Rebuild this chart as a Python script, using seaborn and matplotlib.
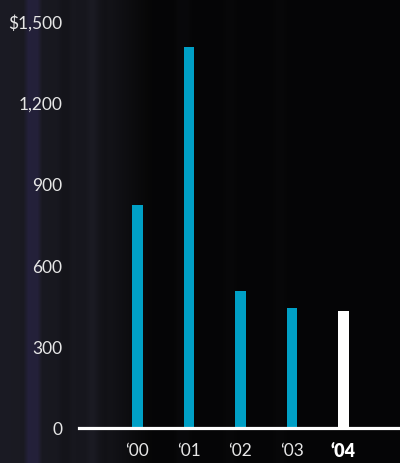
import numpy as np
import pandas as pd
import matplotlib.pyplot as plt
import seaborn as sns
from matplotlib.colors import LinearSegmentedColormap

# Datos del gráfico
anios = ["\u201800", "\u201801", "\u201802", "\u201803", "\u201804"]
valores = [821, 1406, 504, 442, 431]
colores = ["#00a0c6", "#00a0c6", "#00a0c6", "#00a0c6", "#ffffff"]
ticks_y = [0, 300, 600, 900, 1200, 1500]
etiquetas_y = ["0", "300", "600", "900", "1,200", "$1,500"]

df = pd.DataFrame({"anio": anios, "valor": valores})

sns.set_style("dark")
plt.rcParams["font.family"] = ["Lato", "DejaVu Sans"]

fig = plt.figure(figsize=(4.0, 4.64), dpi=100)
fig.patch.set_facecolor("#050505")

# fondo con vetas verticales oscuras (decoración)
fondo = fig.add_axes([0, 0, 1, 1], zorder=0)
perfil = np.full(400, 0.02)
perfil[:100] = np.linspace(0.42, 0.32, 100)
perfil[100:150] = np.linspace(0.32, 0.03, 50)
perfil[26:40] += 0.22
perfil[60:70] -= 0.06
perfil[88:96] += 0.08
perfil[100:108] -= 0.05
perfil[176:190] += 0.05
perfil[225:235] += 0.03
perfil[275:285] += 0.03
perfil = np.convolve(perfil, np.ones(5) / 5, mode="same")
perfil[:3] = perfil[3]
perfil[-3:] = perfil[-4]
mapa = LinearSegmentedColormap.from_list(
    "fondo", ["#050505", "#1a1a22", "#2c2650"])
fondo.imshow(np.tile(perfil, (10, 1)), aspect="auto", cmap=mapa,
             vmin=0, vmax=0.8, extent=[0, 1, 0, 1])
fondo.axis("off")

ax = fig.add_axes([79 / 400, 35 / 464, 321 / 400, (429 - 22) / 464], zorder=1)
ax.patch.set_alpha(0)
sns.barplot(data=df, x="anio", y="valor", hue="anio", palette=colores,
            width=0.21, legend=False, saturation=1, linewidth=0, ax=ax)

ax.set_xlim(-1.136, 5.097)
ax.set_ylim(0, 1500)
ax.set_yticks(ticks_y)
ax.set_yticklabels(etiquetas_y)
ax.set_xlabel("")
ax.set_ylabel("")
ax.grid(False)
for lado in ["top", "right", "left"]:
    ax.spines[lado].set_visible(False)
ax.spines["bottom"].set_visible(True)
ax.spines["bottom"].set_color("white")
ax.spines["bottom"].set_linewidth(2.3)

ax.tick_params(axis="y", length=0, pad=12, labelsize=12.5, labelcolor="#e6e6e6")
ax.tick_params(axis="x", length=0, pad=10, labelsize=12.5, labelcolor="#e6e6e6")
for etiqueta in ax.get_xticklabels():
    if etiqueta.get_text() == "\u201804":
        etiqueta.set_fontweight("heavy")
        etiqueta.set_fontsize(13)
        etiqueta.set_color("white")

plt.savefig("out.png", dpi=100, facecolor=fig.get_facecolor())
plt.close()
